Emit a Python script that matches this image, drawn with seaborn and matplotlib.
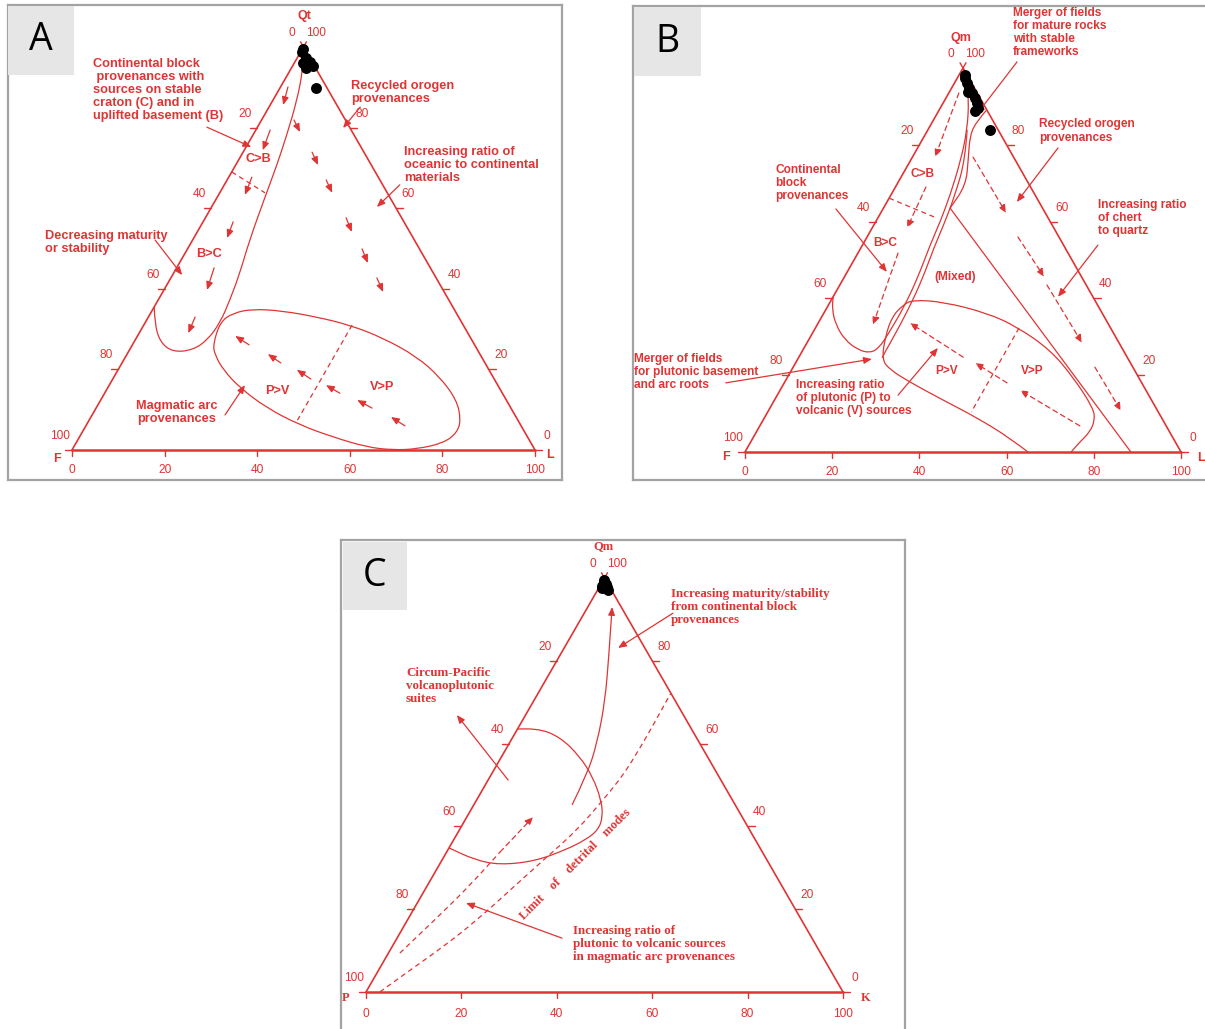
import numpy as np
import matplotlib
matplotlib.use("Agg")
import matplotlib.pyplot as plt
from matplotlib.patches import Rectangle, PathPatch
from matplotlib.path import Path
import seaborn as sns
import pandas as pd

sns.set_theme(style="white")
plt.rcParams["font.family"] = ["Liberation Sans", "DejaVu Sans"]

RED = "#e03434"
FW, FH = 1205, 1029

# ---------------- data: ternary percentages (q = top pole, l = right pole) -------------
# panel A : Qt - F - L
A_pts_q = [99.5, 98.8, 97.3, 96.3, 95.3, 94.8, 96.0, 89.8]
A_pts_l = [0.2, 0.3, 1.9, 3.3, 4.5, 3.1, 1.9, 7.8]

A_cont_q = [35.5, 31.5, 26.8, 24.3, 24.8, 27.3, 31.5, 37.2, 43.9, 52.1, 62.8, 70.7, 78.2, 86.8, 94.3, 100]
A_cont_l = [0, 2.1, 5.6, 9.6, 13.7, 15.6, 16.2, 15.5, 14.3, 12.3, 10.3, 8.9, 7.3, 5.2, 2.7, 0]
A_cdiv_q = [69.0, 63.8]
A_cdiv_l = [0, 9.8]

A_arc_q = [26.1, 31.8, 34.0, 35.0, 34.5, 33.0, 31.0, 27.8, 23.1, 18.1, 12.4, 7.4, 4.2, 1.7, 0.25, 0,
           0.7, 3.2, 6.2, 10.4, 15.4, 19.9, 23.6, 26.1]
A_arc_l = [17.4, 16.1, 17.8, 21.6, 28.3, 36.4, 44.5, 53.3, 63.0, 70.4, 76.9, 80.3, 81.0, 79.3, 74.4, 69.3,
           63.4, 54.8, 46.1, 36.9, 28.6, 22.7, 19.1, 17.4]
A_adiv_q = [31.0, 7.4]
A_adiv_l = [45.0, 45.0]

# short trend arrows (tail -> head)
A_ca_q0 = [90.1, 79.4, 67.7, 56.6, 45.2, 33.0]
A_ca_l0 = [1.6, 3.1, 5.0, 6.5, 8.1, 10.1]
A_ca_q1 = [85.6, 74.4, 63.3, 52.6, 39.7, 29.0]
A_ca_l1 = [2.8, 4.0, 5.7, 7.2, 9.3, 10.6]

A_ra_q0 = [81.9, 73.9, 67.0, 57.6, 49.9, 42.7]
A_ra_l0 = [7.0, 14.9, 21.4, 30.4, 37.7, 44.5]
A_ra_q1 = [78.9, 70.7, 63.8, 54.1, 46.4, 39.2]
A_ra_l1 = [9.8, 17.8, 24.3, 33.4, 40.7, 47.6]

A_ma_q0 = [26.1, 21.6, 17.6, 14.1, 10.4, 6.0]
A_ma_l0 = [25.2, 34.3, 42.8, 50.8, 59.6, 68.9]
A_ma_q1 = [28.3, 23.8, 19.9, 16.1, 12.4, 8.2]
A_ma_l1 = [21.1, 30.4, 38.6, 46.8, 55.4, 64.8]

# leader arrows of the labels
A_ld_q0 = [80.1, 85.1, 65.8, 52.1, 8.7]
A_ld_l0 = [-10.9, 19.7, 37.9, -8.1, 28.7]
A_ld_q1 = [75.2, 79.9, 60.3, 43.4, 16.1]
A_ld_l1 = [1.1, 18.6, 35.7, 2.1, 29.3]

# panel B : Qm - F - Lt
B_pts_q = [98.3, 97.4, 96.1, 94.8, 93.5, 92.2, 90.9, 89.6, 88.8, 93.8, 83.9]
B_pts_l = [1.2, 1.8, 2.9, 4.0, 5.3, 6.7, 7.8, 8.6, 8.4, 4.3, 14.2]

B_cont_q = [100, 99.0, 91.7, 83.9, 76.0, 66.9, 59.9, 53.9, 45.6, 37.8, 31.0, 27.1, 25.8, 26.6, 29.2, 33.1, 37.0, 40.4]
B_cont_l = [0, 1.2, 5.5, 9.0, 11.5, 13.6, 14.8, 15.5, 16.9, 17.6, 17.5, 17.2, 15.8, 12.6, 8.3, 4.3, 1.5, 0]
B_mix_q = [83.9, 76.0, 66.9, 59.9, 53.4, 44.8, 37.0, 30.2, 26.0, 24.5]
B_mix_l = [9.0, 12.5, 14.7, 15.9, 16.7, 18.2, 18.9, 19.1, 19.1, 19.2]
B_rec_q = [89.1, 86.2, 82.6, 76.0, 69.5, 63.5, 0]
B_rec_l = [10.9, 10.1, 10.3, 13.2, 15.9, 15.3, 88.5]
B_cdiv_q = [66.1, 60.9]
B_cdiv_l = [0, 13.6]

# magmatic arc field, from its left foot on the base round to its right foot
B_arc_q = [0, 3.6, 8.9, 13.5, 18.2, 21.4, 24.0, 29.9, 35.2, 38.3, 39.6, 39.1, 36.2, 32.6, 26.6, 19.5,
           11.5, 8.3, 5.2, 2.6, 0]
B_arc_l = [64.9, 59.0, 48.8, 38.7, 28.7, 22.6, 19.4, 17.2, 16.1, 17.1, 18.7, 25.9, 37.4, 46.1, 56.7, 65.5,
           74.1, 76.1, 76.5, 75.5, 74.8]
B_adiv_q = [32.3, 10.4]
B_adiv_l = [46.7, 46.7]

B_ca_q0 = [93.5, 69.0, 51.8]
B_ca_l0 = [2.3, 7.0, 9.2]
B_ca_q1 = [76.8, 58.3, 33.1]
B_ca_l1 = [5.2, 8.0, 12.8]

B_ra_q0 = [76.8, 56.0, 43.5, 22.1]
B_ra_l0 = [13.9, 34.6, 47.5, 69.2]
B_ra_q1 = [62.2, 45.6, 28.4, 10.7]
B_ra_l1 = [28.8, 45.8, 63.1, 80.9]

B_ma_q0 = [24.7, 18.0, 6.8]
B_ma_l0 = [37.7, 51.1, 73.4]
B_ma_q1 = [33.6, 23.2, 16.1]
B_ma_l1 = [21.0, 41.2, 55.0]

B_ld_q0 = [101.6, 79.2, 63.3, 53.9, 18.0, 14.8]
B_ld_l0 = [11.6, 32.2, -10.8, 54.0, -13.4, 27.7]
B_ld_q1 = [88.0, 65.1, 46.9, 40.4, 24.2, 27.1]
B_ld_l1 = [9.2, 29.8, 9.1, 51.6, 17.0, 30.7]

# panel C : Qm - P - K
C_pts_q = [99.5, 99.0, 98.5, 97.8, 97.0, 97.5, 98.0]
C_pts_l = [0.2, 0.3, 1.0, 1.6, 2.2, 0.8, 0.5]

C_circ_q = [63.5, 63.8, 61.6, 56.8, 51.9, 46.4, 42.3, 39.1, 36.7, 34.3, 31.6, 30.7, 31.9, 34.8]
C_circ_l = [0, 3.9, 9.9, 16.5, 21.6, 26.1, 28.5, 29.1, 27.6, 24.6, 19.6, 12.7, 6.9, 0]
C_mat_q = [45.2, 52.4, 60.1, 70.5, 81.4, 93.0]
C_mat_l = [20.6, 20.1, 18.4, 14.9, 10.2, 5.1]
C_lim_q = [0, 5.3, 10.9, 17.4, 24.6, 32.6, 39.1, 46.4, 51.2, 55.3, 63.3, 72.2]
C_lim_l = [2.9, 6.6, 10.7, 14.6, 17.9, 21.6, 24.7, 26.5, 27.5, 27.9, 28.0, 27.8]
C_pv_q = [9.4, 18.6, 25.8, 33.8, 42.3]
C_pv_l = [2.4, 6.2, 8.9, 11.2, 13.9]

C_ld_q0 = [51.2, 91.5, 13.0]
C_ld_l0 = [4.2, 18.6, 34.6]
C_ld_q1 = [66.9, 83.1, 21.5]
C_ld_l1 = [-14.4, 11.3, 10.2]

TICKS = [0, 20, 40, 60, 80, 100]

SANS = ["Liberation Sans", "DejaVu Sans"]
SERIF = ["Liberation Serif", "DejaVu Serif"]
DASH = (0, (4, 3))


def txy(q, l):
    q = np.asarray(q, float)
    l = np.asarray(l, float)
    return l + q / 2, q


fig = plt.figure(figsize=(FW / 100, FH / 100), dpi=100)


def panel(box, origin, w, h):
    x0, y0, x1, y1 = box
    ox, oy = origin
    ax = fig.add_axes([x0 / FW, 1 - y1 / FH, (x1 - x0) / FW, (y1 - y0) / FH])
    ax.set_xlim((x0 - ox) / w * 100, (x1 - ox) / w * 100)
    ax.set_ylim((oy - y1) / h * 100, (oy - y0) / h * 100)
    ax.set_xticks([])
    ax.set_yticks([])
    for s in ax.spines.values():
        s.set_color("#a3a3a3")
        s.set_linewidth(1.6)
    return ax, w / 100, h / 100


def frame(ax, sx, sy, names, name_pos, fam, boff):
    x, y = txy([0, 100, 0], [0, 0, 100])
    ax.plot([x[0], x[1], x[2]], [y[0], y[1], y[2]], color=RED, lw=1.2)
    ax.plot([x[0], x[2]], [y[0], y[2]], color=RED, lw=1.8)
    tk = dict(color=RED, fontsize=8.6, ha="center", va="center", textcoords="offset pixels", family=SANS)
    for v in TICKS:
        bx, by = txy(0, v)
        ax.plot([bx, bx], [by, by - 6 / sy], color=RED, lw=1)
        ax.annotate(str(v), (bx, by), xytext=(0, -boff), **tk)
        lx, ly = txy(100 - v, 0)
        if v > 0:
            ax.plot([lx, lx - 7 / sx], [ly, ly], color=RED, lw=1)
        ax.annotate(str(v), (lx, ly), xytext=(-12, 14), **tk)
        rx, ry = txy(v, 100 - v)
        if v < 100:
            ax.plot([rx, rx + 7 / sx], [ry, ry], color=RED, lw=1)
        ax.annotate(str(v), (rx, ry), xytext=(12, 14), **tk)
    # little cross at the apex
    side = np.hypot(50 * sx, 100 * sy)
    f = 6 / side
    ax.plot([50, 50 + 50 * f], [100, 100 + 100 * f], color=RED, lw=1)
    ax.plot([50, 50 - 50 * f], [100, 100 + 100 * f], color=RED, lw=1)
    for n, (px, py) in zip(names, name_pos):
        ax.text(px, py, n, color=RED, fontsize=9, fontweight="bold", ha="center", va="center", family=fam)


def line(ax, q, l, dashed=False, lw=0.9):
    x, y = txy(q, l)
    ax.plot(x, y, color=RED, lw=lw, ls=DASH if dashed else "-")


def curve(ax, q, l, dashed=False, lw=0.9):
    # hand-drawn field outline: read points used as quadratic Bezier controls
    x, y = txy(q, l)
    p = np.column_stack([x, y])
    closed = np.allclose(p[0], p[-1])
    if closed:
        p = p[:-1]
        n = len(p)
        start = (p[0] + p[1]) / 2
        verts, codes = [start], [Path.MOVETO]
        for i in range(1, n + 1):
            c = p[i % n]
            e = (p[i % n] + p[(i + 1) % n]) / 2
            verts += [c, e]
            codes += [Path.CURVE3, Path.CURVE3]
    else:
        verts, codes = [p[0]], [Path.MOVETO]
        for i in range(1, len(p) - 1):
            verts += [p[i], (p[i] + p[i + 1]) / 2]
            codes += [Path.CURVE3, Path.CURVE3]
        verts.append(p[-1])
        codes.append(Path.LINETO)
    ax.add_patch(PathPatch(Path(verts, codes), fill=False, ec=RED, lw=lw, ls=DASH if dashed else "-"))


def arrows(ax, q0, l0, q1, l1, dashed=False, ms=8):
    x0, y0 = txy(q0, l0)
    x1, y1 = txy(q1, l1)
    for a, b, c, d in zip(x0, y0, x1, y1):
        ax.annotate("", xy=(c, d), xytext=(a, b),
                    arrowprops=dict(arrowstyle="-|>,head_length=0.6,head_width=0.25", color=RED, lw=0.9,
                                    linestyle=DASH if dashed else "-",
                                    shrinkA=0, shrinkB=0, mutation_scale=ms))


def points(ax, q, l):
    x, y = txy(q, l)
    df = pd.DataFrame({"x": x, "y": y})
    sns.scatterplot(data=df, x="x", y="y", ax=ax, color="black", s=62, linewidth=0, zorder=5, legend=False)
    ax.set_xlabel("")
    ax.set_ylabel("")


def label_box(x0, y0, x1, y1, letter):
    fig.add_artist(Rectangle((x0 / FW, 1 - y1 / FH), (x1 - x0) / FW, (y1 - y0) / FH,
                             transform=fig.transFigure, facecolor="#e6e6e6", edgecolor="none", zorder=10))
    fig.text((x0 + x1) / 2 / FW, 1 - (y0 + y1) / 2 / FH, letter, fontsize=27, color="black",
             ha="center", va="center", zorder=11, family=["Open Sans", "DejaVu Sans"])


def note(ax, x, y, s, fam=SANS, size=9.2, ha="left", **kw):
    ax.text(x, y, s, color=RED, fontsize=size, fontweight="bold", ha=ha, va="center", family=fam,
            linespacing=1.12, **kw)


# ---------------- panel A ----------------
axA, sx, sy = panel((8, 5, 562, 480), (72, 450), 463, 403)
frame(axA, sx, sy, ["Qt", "F", "L"], [(50.1, 107.7), (-3.2, -2.2), (103.2, -1.2)], SANS, 20)
curve(axA, A_cont_q, A_cont_l)
line(axA, A_cdiv_q, A_cdiv_l, dashed=True)
curve(axA, A_arc_q, A_arc_l)
line(axA, A_adiv_q, A_adiv_l, dashed=True)
arrows(axA, A_ca_q0, A_ca_l0, A_ca_q1, A_ca_l1)
arrows(axA, A_ra_q0, A_ra_l0, A_ra_q1, A_ra_l1)
arrows(axA, A_ma_q0, A_ma_l0, A_ma_q1, A_ma_l1)
arrows(axA, A_ld_q0, A_ld_l0, A_ld_q1, A_ld_l1)
points(axA, A_pts_q, A_pts_l)
note(axA, 4.5, 89.4, "Continental block\n provenances with\nsources on stable\ncraton (C) and in\nuplifted basement (B)")
note(axA, 60.3, 88.6, "Recycled orogen\nprovenances")
note(axA, 71.7, 70.7, "Increasing ratio of\noceanic to continental\nmaterials")
note(axA, -5.8, 51.6, "Decreasing maturity\nor stability")
note(axA, 22.7, 9.3, "Magmatic arc\nprovenances", ha="center", multialignment="center")
note(axA, 40.2, 72.2, "C>B", ha="center")
note(axA, 29.6, 48.6, "B>C", ha="center")
note(axA, 44.3, 14.6, "P>V", ha="center")
note(axA, 67.0, 15.6, "V>P", ha="center")
label_box(8, 6, 74, 75, "A")

# ---------------- panel B ----------------
axB, sx, sy = panel((633, 6, 1207, 480), (745, 452), 436, 384)
frame(axB, sx, sy, ["Qm", "F", "L"], [(49.5, 107.8), (-4.4, -1.3), (104.6, -1.6)], SANS, 20)
curve(axB, B_cont_q, B_cont_l)
curve(axB, B_mix_q, B_mix_l)
curve(axB, B_rec_q[:6], B_rec_l[:6])
line(axB, B_rec_q[5:], B_rec_l[5:])
line(axB, B_cdiv_q, B_cdiv_l, dashed=True)
curve(axB, B_arc_q, B_arc_l)
line(axB, B_adiv_q, B_adiv_l, dashed=True)
arrows(axB, B_ca_q0, B_ca_l0, B_ca_q1, B_ca_l1, dashed=True)
arrows(axB, B_ra_q0, B_ra_l0, B_ra_q1, B_ra_l1, dashed=True)
arrows(axB, B_ma_q0, B_ma_l0, B_ma_q1, B_ma_l1, dashed=True)
arrows(axB, B_ld_q0, B_ld_l0, B_ld_q1, B_ld_l1)
points(axB, B_pts_q, B_pts_l)
note(axB, 61.5, 109.2, "Merger of fields\nfor mature rocks\nwith stable\nframeworks", size=8.6)
note(axB, 67.4, 83.6, "Recycled orogen\nprovenances", size=8.6)
note(axB, 6.9, 70.1, "Continental\nblock\nprovenances", size=8.6)
note(axB, 81.0, 60.9, "Increasing ratio\nof chert\nto quartz", size=8.6)
note(axB, -25.5, 20.8, "Merger of fields\nfor plutonic basement\nand arc roots", size=8.6)
note(axB, 11.7, 14.1, "Increasing ratio\nof plutonic (P) to\nvolcanic (V) sources", size=8.6)
note(axB, 40.8, 72.4, "C>B", size=8.6, ha="center")
note(axB, 32.1, 54.4, "B>C", size=8.6, ha="center")
note(axB, 48.2, 45.6, "(Mixed)", size=8.6, ha="center")
note(axB, 46.3, 21.1, "P>V", size=8.6, ha="center")
note(axB, 65.8, 21.1, "V>P", size=8.6, ha="center")
label_box(634, 7, 701, 76, "B")

# ---------------- panel C ----------------
axC, sx, sy = panel((341, 540, 905, 1031), (366, 992), 477, 414)
frame(axC, sx, sy, ["Qm", "P", "K"], [(49.7, 107.7), (-4.2, -1.45), (104.8, -1.45)], SERIF, 22)
curve(axC, C_circ_q, C_circ_l)
curve(axC, C_mat_q[:-1], C_mat_l[:-1])
arrows(axC, C_mat_q[-2:-1], C_mat_l[-2:-1], C_mat_q[-1:], C_mat_l[-1:])
curve(axC, C_lim_q, C_lim_l, dashed=True)
curve(axC, C_pv_q[:-1], C_pv_l[:-1], dashed=True)
arrows(axC, C_pv_q[-2:-1], C_pv_l[-2:-1], C_pv_q[-1:], C_pv_l[-1:], dashed=True)
arrows(axC, C_ld_q0, C_ld_l0, C_ld_q1, C_ld_l1)
points(axC, C_pts_q, C_pts_l)
note(axC, 8.4, 73.9, "Circum-Pacific\nvolcanoplutonic\nsuites", fam=SERIF, size=9.4)
note(axC, 63.9, 93.0, "Increasing maturity/stability\nfrom continental block\nprovenances", fam=SERIF, size=9.4)
note(axC, 43.4, 11.6, "Increasing ratio of\nplutonic to volcanic sources\nin magmatic arc provenances", fam=SERIF, size=9.4)
note(axC, 43.8, 30.9, "Limit    of    detrital    modes", fam=SERIF, size=9.0, ha="center",
     rotation=45, rotation_mode="anchor")
label_box(343, 542, 407, 610, "C")

fig.savefig("out.png", dpi=100, facecolor="white")
